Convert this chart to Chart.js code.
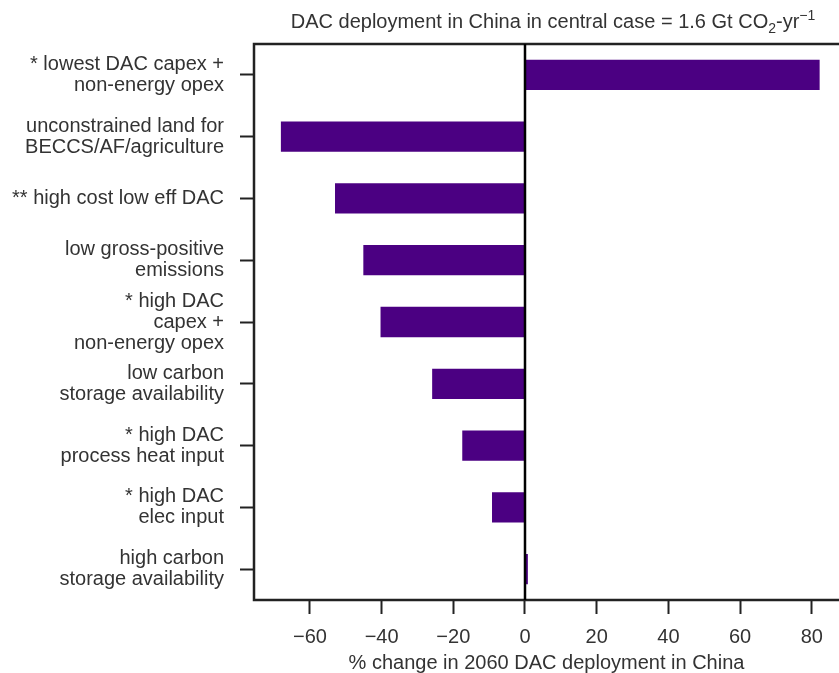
<!DOCTYPE html>
<html>
<head>
<meta charset="utf-8">
<title>DAC deployment in China</title>
<script src="https://cdn.jsdelivr.net/npm/chart.js@4.4.1/dist/chart.umd.min.js"></script>
<style>
  html, body { margin: 0; padding: 0; background: #fff; overflow: hidden; }
  canvas { display: block; }
</style>
</head>
<body>
<canvas id="dacChart" width="839" height="673"></canvas>
<script>
// sensitivity cases, top to bottom
const scenarios = [
  ["* lowest DAC capex +", "non-energy opex"],
  ["unconstrained land for", "BECCS/AF/agriculture"],
  ["** high cost low eff DAC"],
  ["low gross-positive", "emissions"],
  ["* high DAC", "capex +", "non-energy opex"],
  ["low carbon", "storage availability"],
  ["* high DAC", "process heat input"],
  ["* high DAC", "elec input"],
  ["high carbon", "storage availability"]
];
// % change in 2060 DAC deployment vs. central case
const pctChange = [82.2, -68.1, -53.0, -45.1, -40.3, -25.9, -17.5, -9.2, 0.8];
const xTicks = [-60, -40, -20, 0, 20, 40, 60, 80];

const FONT = "'Liberation Sans', Arial, Helvetica, sans-serif";
const TEXT = "#333333";
const LINE = "#222222";

// frame (no right edge), zero line and the title with sub/superscripts
const framePlugin = {
  id: "frame",
  afterDatasetsDraw(chart) {
    const ctx = chart.ctx;
    const a = chart.chartArea;
    const x0 = chart.scales.x.getPixelForValue(0);
    ctx.save();
    ctx.strokeStyle = LINE;
    ctx.lineWidth = 2.5;
    ctx.beginPath();
    ctx.moveTo(a.right + 2, a.top);
    ctx.lineTo(a.left, a.top);
    ctx.lineTo(a.left, a.bottom);
    ctx.lineTo(a.right + 2, a.bottom);
    ctx.stroke();
    ctx.strokeStyle = "#000";
    ctx.beginPath();
    ctx.moveTo(x0, a.top);
    ctx.lineTo(x0, a.bottom);
    ctx.stroke();

    // title
    const parts = [
      { t: "DAC deployment in China in central case = 1.6 Gt CO", size: 20, dy: 0 },
      { t: "2", size: 14, dy: 5 },
      { t: "-yr", size: 20, dy: 0 },
      { t: "\u22121", size: 14, dy: -8 }
    ];
    let total = 0;
    parts.forEach(p => {
      ctx.font = p.size + "px " + FONT;
      p.w = ctx.measureText(p.t).width;
      total += p.w;
    });
    let x = 553 - total / 2;
    const base = 28;
    ctx.fillStyle = TEXT;
    ctx.textAlign = "left";
    ctx.textBaseline = "alphabetic";
    parts.forEach(p => {
      ctx.font = p.size + "px " + FONT;
      ctx.fillText(p.t, x, base + p.dy);
      x += p.w;
    });
    ctx.restore();
  }
};

new Chart(document.getElementById("dacChart"), {
  type: "bar",
  data: {
    labels: scenarios,
    datasets: [{
      data: pctChange,
      backgroundColor: "#4b0082",
      borderWidth: 0,
      barPercentage: 0.49,
      categoryPercentage: 1.0
    }]
  },
  options: {
    indexAxis: "y",
    responsive: false,
    animation: false,
    layout: { padding: { top: 44, right: 0, left: 0, bottom: 0 } },
    plugins: {
      legend: { display: false },
      tooltip: { enabled: false },
      title: { display: false }
    },
    scales: {
      x: {
        type: "linear",
        min: -75.6,
        max: 87.6,
        afterBuildTicks(scale) {
          scale.ticks = xTicks.map(v => ({ value: v }));
        },
        afterFit(scale) { scale.height = 73; },
        border: { display: false },
        grid: {
          drawOnChartArea: false,
          drawTicks: true,
          tickLength: 14,
          tickWidth: 2,
          tickColor: LINE
        },
        ticks: {
          color: TEXT,
          font: { family: FONT, size: 20 },
          padding: 11,
          maxRotation: 0,
          callback: v => (v < 0 ? "\u2212" + Math.abs(v) : String(v))
        },
        title: {
          display: true,
          text: "% change in 2060 DAC deployment in China",
          color: TEXT,
          font: { family: FONT, size: 20, lineHeight: 1.0 },
          padding: { top: 0, bottom: 0 }
        }
      },
      y: {
        type: "category",
        offset: true,
        afterFit(scale) { scale.width = 254; },
        border: { display: false },
        grid: {
          offset: false,
          drawOnChartArea: false,
          drawTicks: true,
          tickLength: 14,
          tickWidth: 2,
          tickColor: LINE
        },
        ticks: {
          color: TEXT,
          font: { family: FONT, size: 20, lineHeight: 1.05 },
          padding: 16,
          autoSkip: false
        }
      }
    }
  },
  plugins: [framePlugin]
});
</script>
</body>
</html>
